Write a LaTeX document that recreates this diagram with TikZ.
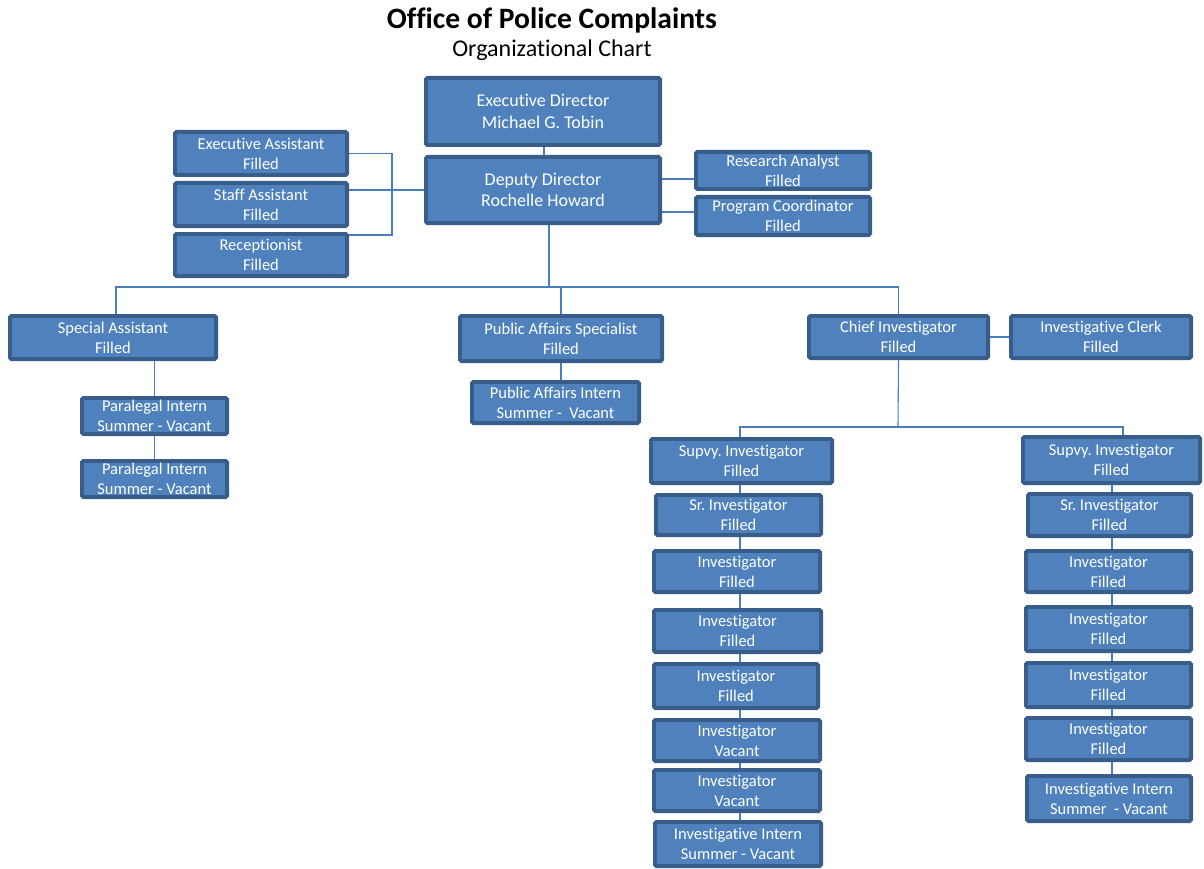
\documentclass[tikz,border=0pt]{standalone}
\usepackage{fontspec}
\setmainfont{Carlito}[Ligatures=NoCommon]
\definecolor{boxfill}{HTML}{4F81BD}
\definecolor{boxedge}{HTML}{385D8A}
\definecolor{connc}{HTML}{4A7EBB}
\tikzset{
  orgbox/.style={draw=boxedge, fill=boxfill, line width=3.9pt, rounded corners=1.5pt,
    text=white, align=center, inner sep=0pt, font=\fontsize{16.5}{20}\selectfont\frenchspacing},
  bigbox/.style={orgbox, font=\fontsize{18}{21.5}\selectfont\frenchspacing},
  conn/.style={draw=connc, line width=1.1pt}
}
% name, x1, y1, x2, y2, style, text
\newcommand\obox[7]{%
  \node[#6, minimum width={(#4-#2)*1pt-3.9pt}, minimum height={(#5-#3)*1pt-3.9pt}]
    (#1) at ({(#2+#4)/2},{(#3+#5)/2}) {#7};}
\begin{document}
\begin{tikzpicture}[x=1pt,y=-1pt]
\useasboundingbox (0,0) rectangle (1204,869);
% title
\node[font=\fontsize{29.6}{32}\bfseries\selectfont, inner sep=0pt] (title) at (552,20) {Office of Police Complaints};
\node[font=\fontsize{24}{26}\selectfont, inner sep=0pt] (subtitle) at (552,50) {Organizational Chart};

% boxes
\obox{ed}{424}{76}{662}{147}{bigbox}{Executive Director\\Michael G. Tobin}
\obox{dd}{424}{155}{662}{225}{bigbox}{Deputy Director\\Rochelle Howard}
\obox{ea}{173}{130}{349}{177}{orgbox}{Executive Assistant\\Filled}
\obox{sa}{173}{181}{349}{228}{orgbox}{Staff Assistant\\Filled}
\obox{rec}{173}{232}{349}{278}{orgbox}{Receptionist\\Filled}
\obox{ra}{694}{150}{872}{191}{orgbox}{Research Analyst\\Filled}
\obox{pc}{694}{195}{872}{237}{orgbox}{Program Coordinator\\Filled}

\obox{spa}{8}{314}{218}{361}{orgbox}{Special Assistant\\Filled}
\obox{pi1}{80}{396}{229}{436}{orgbox}{Paralegal Intern\\Summer - Vacant}
\obox{pi2}{80}{459}{229}{499}{orgbox}{Paralegal Intern\\Summer - Vacant}

\obox{pas}{458}{314}{664}{363}{orgbox}{Public Affairs Specialist\\Filled}
\obox{pai}{470}{380}{641}{425}{orgbox}{Public Affairs Intern\\Summer -\ \ Vacant}

\obox{ci}{807}{314}{990}{360}{orgbox}{Chief Investigator\\Filled}
\obox{ic}{1009}{314}{1193}{360}{orgbox}{Investigative Clerk\\Filled}

\obox{lsup}{649}{437}{834}{485}{orgbox}{Supvy. Investigator\\Filled}
\obox{lsr}{654}{493}{823}{537}{orgbox}{Sr. Investigator\\Filled}
\obox{li1}{652}{549}{822}{594}{orgbox}{Investigator\\Filled}
\obox{li2}{652}{608}{823}{654}{orgbox}{Investigator\\Filled}
\obox{li3}{652}{662}{820}{710}{orgbox}{Investigator\\Filled}
\obox{li4}{652}{718}{822}{763}{orgbox}{Investigator\\Vacant}
\obox{li5}{652}{768}{822}{813}{orgbox}{Investigator\\Vacant}
\obox{lint}{653}{820}{823}{868}{orgbox}{Investigative Intern\\Summer - Vacant}

\obox{rsup}{1021}{435}{1202}{485}{orgbox}{Supvy. Investigator\\Filled}
\obox{rsr}{1026}{492}{1193}{538}{orgbox}{Sr. Investigator\\Filled}
\obox{ri1}{1024}{549}{1193}{594}{orgbox}{Investigator\\Filled}
\obox{ri2}{1024}{605}{1193}{653}{orgbox}{Investigator\\Filled}
\obox{ri3}{1024}{661}{1193}{709}{orgbox}{Investigator\\Filled}
\obox{ri4}{1024}{716}{1193}{762}{orgbox}{Investigator\\Filled}
\obox{rint}{1025}{774}{1193}{823}{orgbox}{Investigative Intern\\Summer\ \ - Vacant}

% connectors
\coordinate (brk) at (392,235);
\coordinate (bus) at (549,287);
\coordinate (ibus) at (898,427);
\draw[conn] (ed.south -| 544,0) -- (dd.north -| 544,0);
\draw[conn] (ea.east) -| (brk) -- (brk -| rec.east);
\draw[conn] (dd.west) -- (dd.west -| brk) -- (dd.west -| sa.east);
\draw[conn] (dd.east |- 0,179) -- (ra.west |- 0,179);
\draw[conn] (dd.east |- 0,212) -- (pc.west |- 0,212);
\draw[conn] (dd.south -| bus) -- (bus);
\draw[conn] (spa.north -| 116,0) -- (116,287) -- (ci.north |- bus) -- (ci.north);
\draw[conn] (pas.north) -- (pas.north |- bus);
\draw[conn] (pas.south) -- (pas.south |- pai.north);
\draw[conn] (spa.south -| pi1.north) -- (pi1.north);
\draw[conn] (pi1.south) -- (pi2.north);
\draw[conn] (ci.east) -- (ic.west);
\draw[conn] (ci.south) -- (ibus);
\draw[conn] (lsup.north -| 740,0) -- (740,427) -- (1123,427) -- (rsup.north -| 1123,0);
\foreach \a/\b in {lsup/lsr, lsr/li1, li1/li2, li2/li3, li3/li4, li4/li5, li5/lint}
  \draw[conn] (\a.south -| 740,0) -- (\b.north -| 740,0);
\foreach \a/\b in {rsup/rsr, rsr/ri1, ri1/ri2, ri2/ri3, ri3/ri4, ri4/rint}
  \draw[conn] (\a.south -| 1112,0) -- (\b.north -| 1112,0);
\end{tikzpicture}
\end{document}
